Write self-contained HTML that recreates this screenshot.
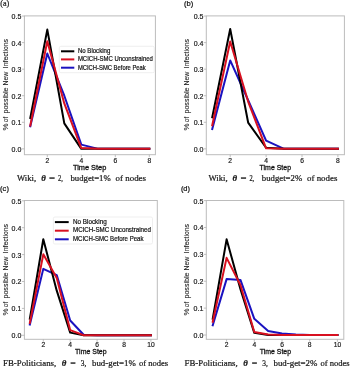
<!DOCTYPE html>
<html><head><meta charset="utf-8"><style>
html,body{margin:0;padding:0;background:#fff;width:350px;height:370px;overflow:hidden}
svg{display:block;will-change:transform}
text{stroke:#111;stroke-width:0.22px}
.t{font-family:"Liberation Sans",sans-serif;font-size:7.0px;fill:#222;stroke:#222;stroke-width:0.2px}
.l{font-family:"Liberation Sans",sans-serif;font-size:7.5px;fill:#111111;stroke:#111111;stroke-width:0.28px}
.g{font-family:"Liberation Sans",sans-serif;font-size:6.6px;fill:#111111;stroke-width:0.2px}
.yl{font-family:"Liberation Sans",sans-serif;font-size:7.5px;fill:#222;stroke:#222;stroke-width:0.1px}
.c{font-family:"Liberation Serif",serif;font-size:9.0px;fill:#1a1a1a}
.ps{font-family:"Liberation Serif",serif;font-size:9.2px;fill:#1a1a1a}
.pa{font-family:"Liberation Sans",sans-serif;font-size:7.9px;fill:#111111}
</style></head><body>
<svg width="350" height="370" viewBox="0 0 350 370">
<rect width="350" height="370" fill="#fff"/>
<polyline points="30.30,126.27 47.30,53.50 64.30,95.73 81.30,144.60 98.30,148.85 115.30,148.85 132.30,148.85 149.30,148.85" fill="none" stroke="#1a12c0" stroke-width="2.0" stroke-linejoin="round" stroke-linecap="square"/>
<polyline points="30.30,118.04 47.30,29.60 64.30,123.35 81.30,148.85 98.30,148.85 115.30,148.85 132.30,148.85 149.30,148.85" fill="none" stroke="#000000" stroke-width="2.0" stroke-linejoin="round" stroke-linecap="square"/>
<polyline points="30.30,125.48 47.30,41.28 64.30,103.43 81.30,148.05 98.30,148.85 115.30,148.85 132.30,148.85 149.30,148.85" fill="none" stroke="#d81020" stroke-width="2.0" stroke-linejoin="round" stroke-linecap="square"/>
<rect x="24.4" y="15.9" width="131.00" height="138.80" fill="none" stroke="#bcbcbc" stroke-width="1"/>
<line x1="21.9" y1="148.85" x2="24.4" y2="148.85" stroke="#b0b0b0" stroke-width="0.8"/>
<text x="21.3" y="151.75" text-anchor="end" class="t">0.0</text>
<line x1="21.9" y1="122.29" x2="24.4" y2="122.29" stroke="#b0b0b0" stroke-width="0.8"/>
<text x="21.3" y="125.19" text-anchor="end" class="t">0.1</text>
<line x1="21.9" y1="95.73" x2="24.4" y2="95.73" stroke="#b0b0b0" stroke-width="0.8"/>
<text x="21.3" y="98.63" text-anchor="end" class="t">0.2</text>
<line x1="21.9" y1="69.17" x2="24.4" y2="69.17" stroke="#b0b0b0" stroke-width="0.8"/>
<text x="21.3" y="72.07" text-anchor="end" class="t">0.3</text>
<line x1="21.9" y1="42.61" x2="24.4" y2="42.61" stroke="#b0b0b0" stroke-width="0.8"/>
<text x="21.3" y="45.51" text-anchor="end" class="t">0.4</text>
<line x1="21.9" y1="16.05" x2="24.4" y2="16.05" stroke="#b0b0b0" stroke-width="0.8"/>
<text x="21.3" y="18.95" text-anchor="end" class="t">0.5</text>
<line x1="47.30" y1="154.7" x2="47.30" y2="157.2" stroke="#b0b0b0" stroke-width="0.8"/>
<text x="47.30" y="162.6" text-anchor="middle" class="t" style="font-size:6.7px">2</text>
<line x1="81.30" y1="154.7" x2="81.30" y2="157.2" stroke="#b0b0b0" stroke-width="0.8"/>
<text x="81.30" y="162.6" text-anchor="middle" class="t" style="font-size:6.7px">4</text>
<line x1="115.30" y1="154.7" x2="115.30" y2="157.2" stroke="#b0b0b0" stroke-width="0.8"/>
<text x="115.30" y="162.6" text-anchor="middle" class="t" style="font-size:6.7px">6</text>
<line x1="149.30" y1="154.7" x2="149.30" y2="157.2" stroke="#b0b0b0" stroke-width="0.8"/>
<text x="149.30" y="162.6" text-anchor="middle" class="t" style="font-size:6.7px">8</text>
<text x="72.9" y="169.6" textLength="33.4" lengthAdjust="spacingAndGlyphs" class="l">Time Step</text>
<text transform="translate(8.0,130.40) rotate(-90)" x="0" y="0" textLength="7.00" lengthAdjust="spacingAndGlyphs" class="yl">%</text>
<text transform="translate(8.0,121.90) rotate(-90)" x="0" y="0" textLength="5.20" lengthAdjust="spacingAndGlyphs" class="yl">of</text>
<text transform="translate(8.0,113.50) rotate(-90)" x="0" y="0" textLength="25.90" lengthAdjust="spacingAndGlyphs" class="yl">possible</text>
<text transform="translate(8.0,85.60) rotate(-90)" x="0" y="0" textLength="13.90" lengthAdjust="spacingAndGlyphs" class="yl">New</text>
<text transform="translate(8.0,68.20) rotate(-90)" x="0" y="0" textLength="29.20" lengthAdjust="spacingAndGlyphs" class="yl">Infections</text>
<text x="17.00" y="180.8" textLength="19.20" lengthAdjust="spacingAndGlyphs" class="c">Wiki,</text>
<text x="41.20" y="180.8" textLength="4.60" lengthAdjust="spacingAndGlyphs" class="c" font-style="italic" font-weight="bold">θ</text>
<text x="49.00" y="180.8" textLength="6.00" lengthAdjust="spacingAndGlyphs" class="c">=</text>
<text x="58.00" y="180.8" textLength="4.80" lengthAdjust="spacingAndGlyphs" class="c">2,</text>
<text x="70.40" y="180.8" textLength="40.40" lengthAdjust="spacingAndGlyphs" class="c">budget=1%</text>
<text x="115.60" y="180.8" textLength="30.40" lengthAdjust="spacingAndGlyphs" class="c">of nodes</text>
<text x="0.2" y="6.0" textLength="9.0" lengthAdjust="spacingAndGlyphs" class="ps">(a)</text>
<rect x="59.3" y="46.3" width="95.00" height="26.40" rx="1.5" fill="#ffffff" fill-opacity="0.85" stroke="#ebebeb" stroke-width="0.8"/>
<line x1="61" y1="51.3" x2="74.3" y2="51.3" stroke="#000000" stroke-width="2.0"/>
<text x="77.9" y="53.00" textLength="32.4" lengthAdjust="spacingAndGlyphs" class="g">No Blocking</text>
<line x1="61" y1="59.4" x2="74.3" y2="59.4" stroke="#d81020" stroke-width="2.0"/>
<text x="77.9" y="61.10" textLength="75.0" lengthAdjust="spacingAndGlyphs" class="g">MCICH-SMC Unconstrained</text>
<line x1="61" y1="67.7" x2="74.3" y2="67.7" stroke="#1a12c0" stroke-width="2.0"/>
<text x="77.9" y="69.50" textLength="67.9" lengthAdjust="spacingAndGlyphs" class="g">MCICH-SMC Before Peak</text>
<polyline points="212.25,128.93 230.20,60.41 248.15,100.25 266.10,140.62 284.05,148.85 302.00,148.85 319.95,148.85 337.90,148.85" fill="none" stroke="#1a12c0" stroke-width="2.0" stroke-linejoin="round" stroke-linecap="square"/>
<polyline points="212.25,117.24 230.20,29.06 248.15,122.56 266.10,147.79 284.05,148.85 302.00,148.85 319.95,148.85 337.90,148.85" fill="none" stroke="#000000" stroke-width="2.0" stroke-linejoin="round" stroke-linecap="square"/>
<polyline points="212.25,125.21 230.20,41.55 248.15,101.57 266.10,148.32 284.05,148.85 302.00,148.85 319.95,148.85 337.90,148.85" fill="none" stroke="#d81020" stroke-width="2.0" stroke-linejoin="round" stroke-linecap="square"/>
<rect x="206.3" y="15.9" width="138.10" height="138.80" fill="none" stroke="#bcbcbc" stroke-width="1"/>
<line x1="203.8" y1="148.85" x2="206.3" y2="148.85" stroke="#b0b0b0" stroke-width="0.8"/>
<text x="203.4" y="151.75" text-anchor="end" class="t">0.0</text>
<line x1="203.8" y1="122.29" x2="206.3" y2="122.29" stroke="#b0b0b0" stroke-width="0.8"/>
<text x="203.4" y="125.19" text-anchor="end" class="t">0.1</text>
<line x1="203.8" y1="95.73" x2="206.3" y2="95.73" stroke="#b0b0b0" stroke-width="0.8"/>
<text x="203.4" y="98.63" text-anchor="end" class="t">0.2</text>
<line x1="203.8" y1="69.17" x2="206.3" y2="69.17" stroke="#b0b0b0" stroke-width="0.8"/>
<text x="203.4" y="72.07" text-anchor="end" class="t">0.3</text>
<line x1="203.8" y1="42.61" x2="206.3" y2="42.61" stroke="#b0b0b0" stroke-width="0.8"/>
<text x="203.4" y="45.51" text-anchor="end" class="t">0.4</text>
<line x1="203.8" y1="16.05" x2="206.3" y2="16.05" stroke="#b0b0b0" stroke-width="0.8"/>
<text x="203.4" y="18.95" text-anchor="end" class="t">0.5</text>
<line x1="230.20" y1="154.7" x2="230.20" y2="157.2" stroke="#b0b0b0" stroke-width="0.8"/>
<text x="230.20" y="162.6" text-anchor="middle" class="t" style="font-size:6.7px">2</text>
<line x1="266.10" y1="154.7" x2="266.10" y2="157.2" stroke="#b0b0b0" stroke-width="0.8"/>
<text x="266.10" y="162.6" text-anchor="middle" class="t" style="font-size:6.7px">4</text>
<line x1="302.00" y1="154.7" x2="302.00" y2="157.2" stroke="#b0b0b0" stroke-width="0.8"/>
<text x="302.00" y="162.6" text-anchor="middle" class="t" style="font-size:6.7px">6</text>
<line x1="337.90" y1="154.7" x2="337.90" y2="157.2" stroke="#b0b0b0" stroke-width="0.8"/>
<text x="337.90" y="162.6" text-anchor="middle" class="t" style="font-size:6.7px">8</text>
<text x="259.6" y="170.1" textLength="31.4" lengthAdjust="spacingAndGlyphs" class="l">Time Step</text>
<text transform="translate(188.8,130.40) rotate(-90)" x="0" y="0" textLength="7.00" lengthAdjust="spacingAndGlyphs" class="yl">%</text>
<text transform="translate(188.8,121.90) rotate(-90)" x="0" y="0" textLength="5.20" lengthAdjust="spacingAndGlyphs" class="yl">of</text>
<text transform="translate(188.8,113.50) rotate(-90)" x="0" y="0" textLength="25.90" lengthAdjust="spacingAndGlyphs" class="yl">possible</text>
<text transform="translate(188.8,85.60) rotate(-90)" x="0" y="0" textLength="13.90" lengthAdjust="spacingAndGlyphs" class="yl">New</text>
<text transform="translate(188.8,68.20) rotate(-90)" x="0" y="0" textLength="29.20" lengthAdjust="spacingAndGlyphs" class="yl">Infections</text>
<text x="208.40" y="180.9" textLength="19.20" lengthAdjust="spacingAndGlyphs" class="c">Wiki,</text>
<text x="232.60" y="180.9" textLength="4.60" lengthAdjust="spacingAndGlyphs" class="c" font-style="italic" font-weight="bold">θ</text>
<text x="240.40" y="180.9" textLength="6.00" lengthAdjust="spacingAndGlyphs" class="c">=</text>
<text x="249.40" y="180.9" textLength="4.80" lengthAdjust="spacingAndGlyphs" class="c">2,</text>
<text x="261.80" y="180.9" textLength="40.40" lengthAdjust="spacingAndGlyphs" class="c">budget=2%</text>
<text x="307.00" y="180.9" textLength="30.40" lengthAdjust="spacingAndGlyphs" class="c">of nodes</text>
<text x="183.9" y="5.8" textLength="9.3" lengthAdjust="spacingAndGlyphs" class="pa">(b)</text>
<polyline points="29.85,324.54 43.30,268.86 56.75,275.04 70.20,320.50 83.65,334.76 97.10,335.30 110.55,335.30 124.00,335.30 137.45,335.30 150.90,335.30" fill="none" stroke="#1a12c0" stroke-width="2.0" stroke-linejoin="round" stroke-linecap="square"/>
<polyline points="29.85,318.62 43.30,239.27 56.75,290.65 70.20,332.61 83.65,335.30 97.10,335.30 110.55,335.30 124.00,335.30 137.45,335.30 150.90,335.30" fill="none" stroke="#000000" stroke-width="2.0" stroke-linejoin="round" stroke-linecap="square"/>
<polyline points="29.85,322.93 43.30,254.33 56.75,278.00 70.20,330.19 83.65,335.30 97.10,335.30 110.55,335.30 124.00,335.30 137.45,335.30 150.90,335.30" fill="none" stroke="#d81020" stroke-width="2.0" stroke-linejoin="round" stroke-linecap="square"/>
<rect x="24.4" y="200.5" width="132.90" height="138.80" fill="none" stroke="#bcbcbc" stroke-width="1"/>
<line x1="21.9" y1="335.30" x2="24.4" y2="335.30" stroke="#b0b0b0" stroke-width="0.8"/>
<text x="21.3" y="338.20" text-anchor="end" class="t">0.0</text>
<line x1="21.9" y1="308.40" x2="24.4" y2="308.40" stroke="#b0b0b0" stroke-width="0.8"/>
<text x="21.3" y="311.30" text-anchor="end" class="t">0.1</text>
<line x1="21.9" y1="281.50" x2="24.4" y2="281.50" stroke="#b0b0b0" stroke-width="0.8"/>
<text x="21.3" y="284.40" text-anchor="end" class="t">0.2</text>
<line x1="21.9" y1="254.60" x2="24.4" y2="254.60" stroke="#b0b0b0" stroke-width="0.8"/>
<text x="21.3" y="257.50" text-anchor="end" class="t">0.3</text>
<line x1="21.9" y1="227.70" x2="24.4" y2="227.70" stroke="#b0b0b0" stroke-width="0.8"/>
<text x="21.3" y="230.60" text-anchor="end" class="t">0.4</text>
<line x1="21.9" y1="200.80" x2="24.4" y2="200.80" stroke="#b0b0b0" stroke-width="0.8"/>
<text x="21.3" y="203.70" text-anchor="end" class="t">0.5</text>
<line x1="43.30" y1="339.3" x2="43.30" y2="341.8" stroke="#b0b0b0" stroke-width="0.8"/>
<text x="43.30" y="346.9" text-anchor="middle" class="t" style="font-size:6.7px">2</text>
<line x1="70.20" y1="339.3" x2="70.20" y2="341.8" stroke="#b0b0b0" stroke-width="0.8"/>
<text x="70.20" y="346.9" text-anchor="middle" class="t" style="font-size:6.7px">4</text>
<line x1="97.10" y1="339.3" x2="97.10" y2="341.8" stroke="#b0b0b0" stroke-width="0.8"/>
<text x="97.10" y="346.9" text-anchor="middle" class="t" style="font-size:6.7px">6</text>
<line x1="124.00" y1="339.3" x2="124.00" y2="341.8" stroke="#b0b0b0" stroke-width="0.8"/>
<text x="124.00" y="346.9" text-anchor="middle" class="t" style="font-size:6.7px">8</text>
<line x1="150.90" y1="339.3" x2="150.90" y2="341.8" stroke="#b0b0b0" stroke-width="0.8"/>
<text x="150.90" y="346.9" text-anchor="middle" class="t" style="font-size:6.7px">10</text>
<text x="75.1" y="353.6" textLength="31.5" lengthAdjust="spacingAndGlyphs" class="l">Time Step</text>
<text transform="translate(7.9,315.40) rotate(-90)" x="0" y="0" textLength="7.00" lengthAdjust="spacingAndGlyphs" class="yl">%</text>
<text transform="translate(7.9,306.90) rotate(-90)" x="0" y="0" textLength="5.20" lengthAdjust="spacingAndGlyphs" class="yl">of</text>
<text transform="translate(7.9,298.50) rotate(-90)" x="0" y="0" textLength="25.90" lengthAdjust="spacingAndGlyphs" class="yl">possible</text>
<text transform="translate(7.9,270.60) rotate(-90)" x="0" y="0" textLength="13.90" lengthAdjust="spacingAndGlyphs" class="yl">New</text>
<text transform="translate(7.9,253.20) rotate(-90)" x="0" y="0" textLength="29.20" lengthAdjust="spacingAndGlyphs" class="yl">Infections</text>
<text x="3.10" y="366.0" textLength="53.10" lengthAdjust="spacingAndGlyphs" class="c">FB-Politicians,</text>
<text x="61.80" y="366.0" textLength="4.60" lengthAdjust="spacingAndGlyphs" class="c" font-style="italic" font-weight="bold">θ</text>
<text x="70.20" y="366.0" textLength="5.50" lengthAdjust="spacingAndGlyphs" class="c">=</text>
<text x="80.80" y="366.0" textLength="5.60" lengthAdjust="spacingAndGlyphs" class="c">3,</text>
<text x="92.00" y="366.0" textLength="43.90" lengthAdjust="spacingAndGlyphs" class="c">bud-get=1%</text>
<text x="138.90" y="366.0" textLength="29.30" lengthAdjust="spacingAndGlyphs" class="c">of nodes</text>
<text x="0.1" y="191.4" textLength="8.8" lengthAdjust="spacingAndGlyphs" class="pa">(c)</text>
<rect x="53.4" y="217.0" width="99.10" height="27.00" rx="1.5" fill="#ffffff" fill-opacity="0.85" stroke="#ebebeb" stroke-width="0.8"/>
<line x1="54.9" y1="222.1" x2="68.7" y2="222.1" stroke="#000000" stroke-width="2.0"/>
<text x="73.0" y="224.10" textLength="33.7" lengthAdjust="spacingAndGlyphs" class="g">No Blocking</text>
<line x1="54.9" y1="230.7" x2="68.7" y2="230.7" stroke="#d81020" stroke-width="2.0"/>
<text x="73.0" y="232.40" textLength="77.9" lengthAdjust="spacingAndGlyphs" class="g">MCICH-SMC Unconstrained</text>
<line x1="54.9" y1="239.3" x2="68.7" y2="239.3" stroke="#1a12c0" stroke-width="2.0"/>
<text x="73.0" y="240.70" textLength="70.5" lengthAdjust="spacingAndGlyphs" class="g">MCICH-SMC Before Peak</text>
<polyline points="212.75,325.32 226.60,279.09 240.45,279.90 254.30,318.87 268.15,330.97 282.00,333.39 295.85,334.46 309.70,335.00 323.55,335.00 337.40,335.00" fill="none" stroke="#1a12c0" stroke-width="2.0" stroke-linejoin="round" stroke-linecap="square"/>
<polyline points="212.75,318.60 226.60,239.31 240.45,289.30 254.30,332.85 268.15,335.00 282.00,335.00 295.85,335.00 309.70,335.00 323.55,335.00 337.40,335.00" fill="none" stroke="#000000" stroke-width="2.0" stroke-linejoin="round" stroke-linecap="square"/>
<polyline points="212.75,321.83 226.60,257.85 240.45,285.00 254.30,332.04 268.15,334.46 282.00,335.00 295.85,335.00 309.70,335.00 323.55,335.00 337.40,335.00" fill="none" stroke="#d81020" stroke-width="2.0" stroke-linejoin="round" stroke-linecap="square"/>
<rect x="206.3" y="200.5" width="137.50" height="138.80" fill="none" stroke="#bcbcbc" stroke-width="1"/>
<line x1="203.8" y1="335.00" x2="206.3" y2="335.00" stroke="#b0b0b0" stroke-width="0.8"/>
<text x="203.3" y="337.90" text-anchor="end" class="t">0.0</text>
<line x1="203.8" y1="308.12" x2="206.3" y2="308.12" stroke="#b0b0b0" stroke-width="0.8"/>
<text x="203.3" y="311.02" text-anchor="end" class="t">0.1</text>
<line x1="203.8" y1="281.24" x2="206.3" y2="281.24" stroke="#b0b0b0" stroke-width="0.8"/>
<text x="203.3" y="284.14" text-anchor="end" class="t">0.2</text>
<line x1="203.8" y1="254.36" x2="206.3" y2="254.36" stroke="#b0b0b0" stroke-width="0.8"/>
<text x="203.3" y="257.26" text-anchor="end" class="t">0.3</text>
<line x1="203.8" y1="227.48" x2="206.3" y2="227.48" stroke="#b0b0b0" stroke-width="0.8"/>
<text x="203.3" y="230.38" text-anchor="end" class="t">0.4</text>
<line x1="203.8" y1="200.60" x2="206.3" y2="200.60" stroke="#b0b0b0" stroke-width="0.8"/>
<text x="203.3" y="203.50" text-anchor="end" class="t">0.5</text>
<line x1="226.60" y1="339.3" x2="226.60" y2="341.8" stroke="#b0b0b0" stroke-width="0.8"/>
<text x="226.60" y="346.9" text-anchor="middle" class="t" style="font-size:6.7px">2</text>
<line x1="254.30" y1="339.3" x2="254.30" y2="341.8" stroke="#b0b0b0" stroke-width="0.8"/>
<text x="254.30" y="346.9" text-anchor="middle" class="t" style="font-size:6.7px">4</text>
<line x1="282.00" y1="339.3" x2="282.00" y2="341.8" stroke="#b0b0b0" stroke-width="0.8"/>
<text x="282.00" y="346.9" text-anchor="middle" class="t" style="font-size:6.7px">6</text>
<line x1="309.70" y1="339.3" x2="309.70" y2="341.8" stroke="#b0b0b0" stroke-width="0.8"/>
<text x="309.70" y="346.9" text-anchor="middle" class="t" style="font-size:6.7px">8</text>
<line x1="337.40" y1="339.3" x2="337.40" y2="341.8" stroke="#b0b0b0" stroke-width="0.8"/>
<text x="337.40" y="346.9" text-anchor="middle" class="t" style="font-size:6.7px">10</text>
<text x="259.7" y="353.6" textLength="31.4" lengthAdjust="spacingAndGlyphs" class="l">Time Step</text>
<text transform="translate(188.7,315.40) rotate(-90)" x="0" y="0" textLength="7.00" lengthAdjust="spacingAndGlyphs" class="yl">%</text>
<text transform="translate(188.7,306.90) rotate(-90)" x="0" y="0" textLength="5.20" lengthAdjust="spacingAndGlyphs" class="yl">of</text>
<text transform="translate(188.7,298.50) rotate(-90)" x="0" y="0" textLength="25.90" lengthAdjust="spacingAndGlyphs" class="yl">possible</text>
<text transform="translate(188.7,270.60) rotate(-90)" x="0" y="0" textLength="13.90" lengthAdjust="spacingAndGlyphs" class="yl">New</text>
<text transform="translate(188.7,253.20) rotate(-90)" x="0" y="0" textLength="29.20" lengthAdjust="spacingAndGlyphs" class="yl">Infections</text>
<text x="184.60" y="366.0" textLength="53.10" lengthAdjust="spacingAndGlyphs" class="c">FB-Politicians,</text>
<text x="243.30" y="366.0" textLength="4.60" lengthAdjust="spacingAndGlyphs" class="c" font-style="italic" font-weight="bold">θ</text>
<text x="251.70" y="366.0" textLength="5.50" lengthAdjust="spacingAndGlyphs" class="c">=</text>
<text x="262.30" y="366.0" textLength="5.60" lengthAdjust="spacingAndGlyphs" class="c">3,</text>
<text x="273.50" y="366.0" textLength="43.90" lengthAdjust="spacingAndGlyphs" class="c">bud-get=2%</text>
<text x="320.40" y="366.0" textLength="29.30" lengthAdjust="spacingAndGlyphs" class="c">of nodes</text>
<text x="180.9" y="191.4" textLength="9.1" lengthAdjust="spacingAndGlyphs" class="pa">(d)</text>
</svg></body></html>
